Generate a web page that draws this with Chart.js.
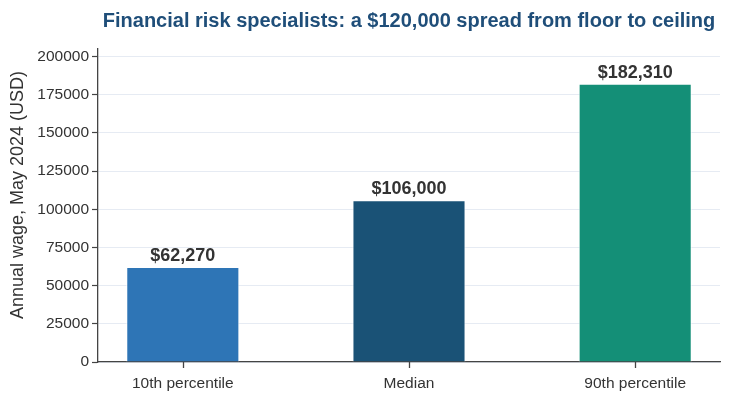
<!DOCTYPE html>
<html>
<head>
<meta charset="utf-8">
<script src="https://cdn.jsdelivr.net/npm/chart.js@4"></script>
<style>
  html, body { margin: 0; padding: 0; background: #fff; }
  #wrap { width: 731px; height: 400px; }
</style>
</head>
<body>
<div id="wrap"><canvas id="chart" width="731" height="400"></canvas></div>
<script>
/* ============================
   Datos
============================ */
const categories = ["10th percentile", "Median", "90th percentile"];
const wages = [62270, 106000, 182310];
const wageLabels = ["$62,270", "$106,000", "$182,310"];
const barColors = ["#2e75b6", "#1a5276", "#148f77"];
const yTicks = [0, 25000, 50000, 75000, 100000, 125000, 150000, 175000, 200000];

const titleText = "Financial risk specialists: a $120,000 spread from floor to ceiling";
const yTitle = "Annual wage, May 2024 (USD)";
const FONT = "'Liberation Sans', Arial, sans-serif";

/* ============================
   Plugins
============================ */
const textos = {
    id: "textos",
    afterDraw(chart) {
        const { ctx, chartArea } = chart;
        ctx.save();
        ctx.font = `bold 20px ${FONT}`;
        ctx.fillStyle = "#1f4e79";
        ctx.textAlign = "center";
        ctx.textBaseline = "alphabetic";
        ctx.fillText(titleText, (chartArea.left + chartArea.right) / 2, 27);

        // marcas del eje X
        const xs = chart.scales.x;
        ctx.strokeStyle = "#444444";
        ctx.lineWidth = 1.3;
        categories.forEach((c, i) => {
            const px = Math.round(xs.getPixelForValue(i)) + 0.5;
            ctx.beginPath();
            ctx.moveTo(px, chartArea.bottom);
            ctx.lineTo(px, chartArea.bottom + 6);
            ctx.stroke();
        });

        // título eje Y
        ctx.translate(18, 195);
        ctx.rotate(-Math.PI / 2);
        ctx.font = `18px ${FONT}`;
        ctx.fillStyle = "#333333";
        ctx.textBaseline = "middle";
        ctx.fillText(yTitle, 0, 0);
        ctx.restore();
    }
};

const valueLabels = {
    id: "valores",
    afterDatasetsDraw(chart) {
        const { ctx } = chart;
        const meta = chart.getDatasetMeta(0);
        ctx.save();
        ctx.font = `bold 18px ${FONT}`;
        ctx.fillStyle = "#333333";
        ctx.textAlign = "center";
        ctx.textBaseline = "alphabetic";
        meta.data.forEach((bar, i) => ctx.fillText(wageLabels[i], bar.x, bar.y - 6));
        ctx.restore();
    }
};

/* ============================
   Gráfica
============================ */
new Chart(document.getElementById("chart"), {
    type: "bar",
    data: {
        datasets: [{
            data: wages.map((v, i) => ({ x: i, y: v })),
            backgroundColor: barColors,
            borderColor: "rgba(255,255,255,0.85)",
            borderWidth: 1,
            barPercentage: 0.5,
            categoryPercentage: 1
        }]
    },
    options: {
        responsive: false,
        animation: false,
        layout: { padding: { left: 0, top: 49, right: 11, bottom: 0 } },
        plugins: { legend: { display: false }, tooltip: { enabled: false } },
        scales: {
            x: {
                type: "linear",
                min: -0.375,
                max: 2.375,
                offset: false,
                afterBuildTicks: (s) => { s.ticks = categories.map((c, i) => ({ value: i })); },
                afterFit: (s) => { s.height = 38; },
                ticks: {
                    callback: (v) => categories[v] ?? "",
                    color: "#333333",
                    font: { family: FONT, size: 15.5 },
                    padding: 4,
                    maxRotation: 0
                },
                grid: { display: false },
                border: { color: "#444444", width: 1.3 }
            },
            y: {
                min: 0,
                max: 205000,
                afterBuildTicks: (s) => { s.ticks = yTicks.map((v) => ({ value: v })); },
                afterFit: (s) => { s.width = 98; },
                ticks: {
                    callback: (v) => String(v),
                    color: "#333333",
                    font: { family: FONT, size: 15.5 },
                    padding: 3
                },
                grid: { color: "#e6ebf3", lineWidth: 1, tickColor: "#444444", tickLength: 6, tickWidth: 1.2 },
                border: { color: "#444444", width: 1.3 }
            }
        }
    },
    plugins: [textos, valueLabels]
});
</script>
</body>
</html>
